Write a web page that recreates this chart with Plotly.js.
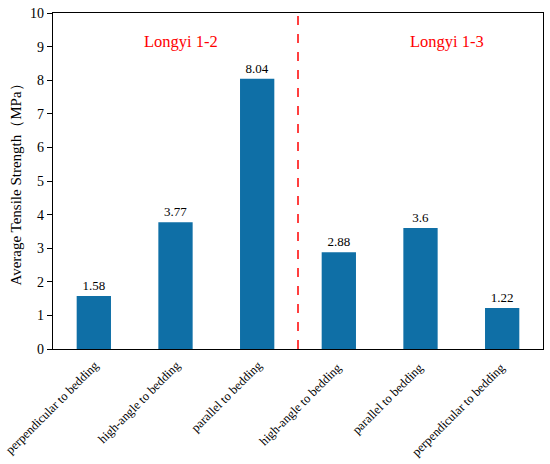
<!DOCTYPE html>
<html>
<head>
<meta charset="utf-8">
<script src="https://cdn.plot.ly/plotly-3.0.1.min.js"></script>
<style>html,body{margin:0;padding:0;background:#fff;}#chart{width:550px;height:464px;}</style>
</head>
<body>
<div id="chart"></div>
<script>
const categories = ["perpendicular to bedding", "high-angle to bedding", "parallel to bedding", "high-angle to bedding ", "parallel to bedding ", "perpendicular to bedding "];
const values = [1.58, 3.77, 8.04, 2.88, 3.6, 1.22];
const valueLabels = ["1.58", "3.77", "8.04", "2.88", "3.6", "1.22"];
const groupNames = ["Longyi 1-2", "Longyi 1-3"];
const yTicks = [0,1,2,3,4,5,6,7,8,9,10];

const serif = "Liberation Serif";
const trace = {
  type: "bar",
  x: categories,
  y: values,
  text: valueLabels,
  textposition: "outside",
  textfont: {family: serif, size: 13, color: "#000"},
  cliponaxis: false,
  marker: {color: "#0f6fa6"},
  hoverinfo: "none"
};
const layout = {
  width: 550, height: 464,
  margin: {l: 53, r: 7, t: 13, b: 115},
  paper_bgcolor: "#fff", plot_bgcolor: "#fff",
  bargap: 0.58,
  showlegend: false,
  font: {family: serif, color: "#000"},
  xaxis: {
    type: "category",
    tickangle: -45,
    ticks: "",
    ticklabelstandoff: 3,
    ticklabelshift: 1,
    showline: true, linecolor: "#000", linewidth: 1.2, mirror: true,
    tickfont: {family: serif, size: 12.5, color: "#000"},
    showgrid: false,
    automargin: false
  },
  yaxis: {
    range: [0, 10],
    tickvals: yTicks,
    ticktext: yTicks.map(String),
    ticks: "outside", ticklen: 5, tickcolor: "#000",
    showline: true, linecolor: "#000", linewidth: 1.2, mirror: true,
    showgrid: false, zeroline: false,
    automargin: false,
    tickfont: {family: serif, size: 14, color: "#000"},
    title: {text: "Average Tensile Strength（MPa）", font: {family: serif, size: 15, color: "#000"}, standoff: 4}
  },
  shapes: [{
    type: "line", xref: "x", yref: "paper",
    x0: 2.5, x1: 2.5, y0: 0, y1: 1,
    line: {color: "#ff0000", width: 1.5, dash: "dash"}
  }],
  annotations: [
    {x: 1.07, y: 9.14, xref: "x", yref: "y", text: groupNames[0], showarrow: false, font: {family: serif, size: 16.5, color: "#ff0000"}},
    {x: 4.32, y: 9.14, xref: "x", yref: "y", text: groupNames[1], showarrow: false, font: {family: serif, size: 16.5, color: "#ff0000"}}
  ]
};
Plotly.newPlot("chart", [trace], layout, {displayModeBar: false, staticPlot: true});
</script>
</body>
</html>
